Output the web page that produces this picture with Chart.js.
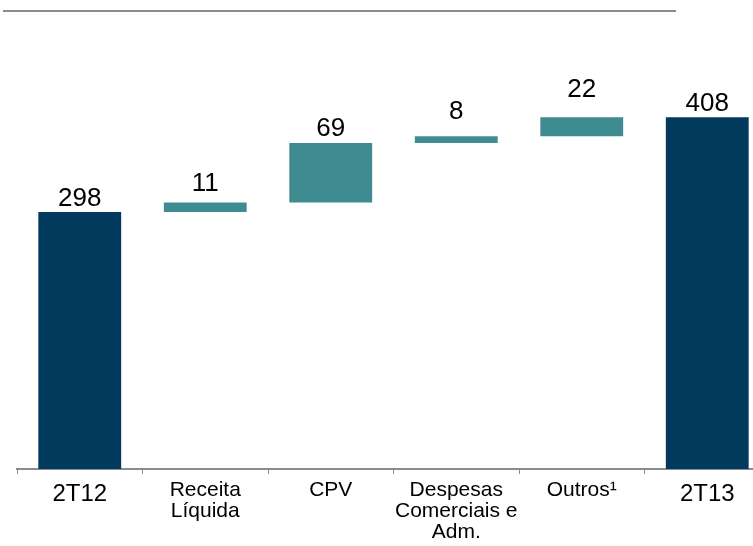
<!DOCTYPE html>
<html>
<head>
<meta charset="utf-8">
<script src="https://cdn.jsdelivr.net/npm/chart.js@4"></script>
<style>
  html, body { margin: 0; padding: 0; background: #fff; overflow: hidden; }
  .wrap { position: relative; width: 770px; height: 546px; }
</style>
</head>
<body>
<div class="wrap"><canvas id="myChart"></canvas></div>
<script>
const categories = ['2T12', ['Receita', 'Líquida'], 'CPV', ['Despesas', 'Comerciais e', 'Adm.'], 'Outros¹', '2T13'];
const startValue = 298;
const steps = [11, 69, 8, 22];
const endValue = 408;

const navy = '#023A5E';
const teal = '#3E8C92';

// floating bars for the waterfall
let run = startValue;
const bars = [[0, startValue]];
steps.forEach(s => {
  bars.push([run, run + s]);
  run += s;
});
bars.push([0, endValue]);
const shown = [startValue, ...steps, endValue];
const colors = bars.map((b, i) => (i === 0 || i === bars.length - 1) ? navy : teal);

const labelGap = [6, 12, 7, 17, 20, 6];

const valueLabels = {
  id: 'valueLabels',
  afterDatasetsDraw(chart) {
    const c = chart.ctx;
    const meta = chart.getDatasetMeta(0);
    c.save();
    c.font = '26px "Liberation Sans", Arial, sans-serif';
    c.fillStyle = '#000';
    c.textAlign = 'center';
    c.textBaseline = 'alphabetic';
    meta.data.forEach((el, i) => {
      const top = Math.min(el.y, el.base);
      c.fillText(String(shown[i]), el.x, top - labelGap[i]);
    });
    c.restore();
  }
};

const topRule = {
  id: 'topRule',
  afterDraw(chart) {
    const c = chart.ctx;
    c.save();
    c.strokeStyle = '#8c8c8c';
    c.lineWidth = 2;
    c.beginPath();
    c.moveTo(3, 11);
    c.lineTo(676, 11);
    c.stroke();
    c.restore();
  }
};

const ctx = document.getElementById('myChart').getContext('2d');
const myChart = new Chart(ctx, {
  type: 'bar',
  data: {
    labels: categories,
    datasets: [
      {
        data: bars,
        backgroundColor: colors,
        borderWidth: 0,
        barPercentage: 0.66,
        categoryPercentage: 1,
      },
    ],
  },
  options: {
    responsive: true,
    maintainAspectRatio: false,
    animation: false,
    layout: { padding: { left: 17, right: 0, top: 0, bottom: 0 } },
    scales: {
      x: {
        grid: {
          offset: true,
          drawOnChartArea: false,
          drawTicks: true,
          tickLength: 5,
          color: '#8c8c8c',
          lineWidth: 1,
        },
        border: { display: true, color: '#8c8c8c', width: 2 },
        ticks: {
          color: '#000',
          padding: 6,
          maxRotation: 0,
          autoSkip: false,
          font: (c) => {
            const big = c.index === 0 || c.index === categories.length - 1;
            return {
              family: '"Liberation Sans", Arial, sans-serif',
              size: big ? 24 : 21,
              lineHeight: big ? 1.2 : '21px',
            };
          },
        },
        afterFit(scale) {
          scale.height = 77;
        },
      },
      y: {
        display: false,
        min: 0,
        max: 544,
      },
    },
    plugins: {
      legend: { display: false },
      tooltip: { enabled: false },
    },
  },
  plugins: [valueLabels, topRule],
});
</script>
</body>
</html>
